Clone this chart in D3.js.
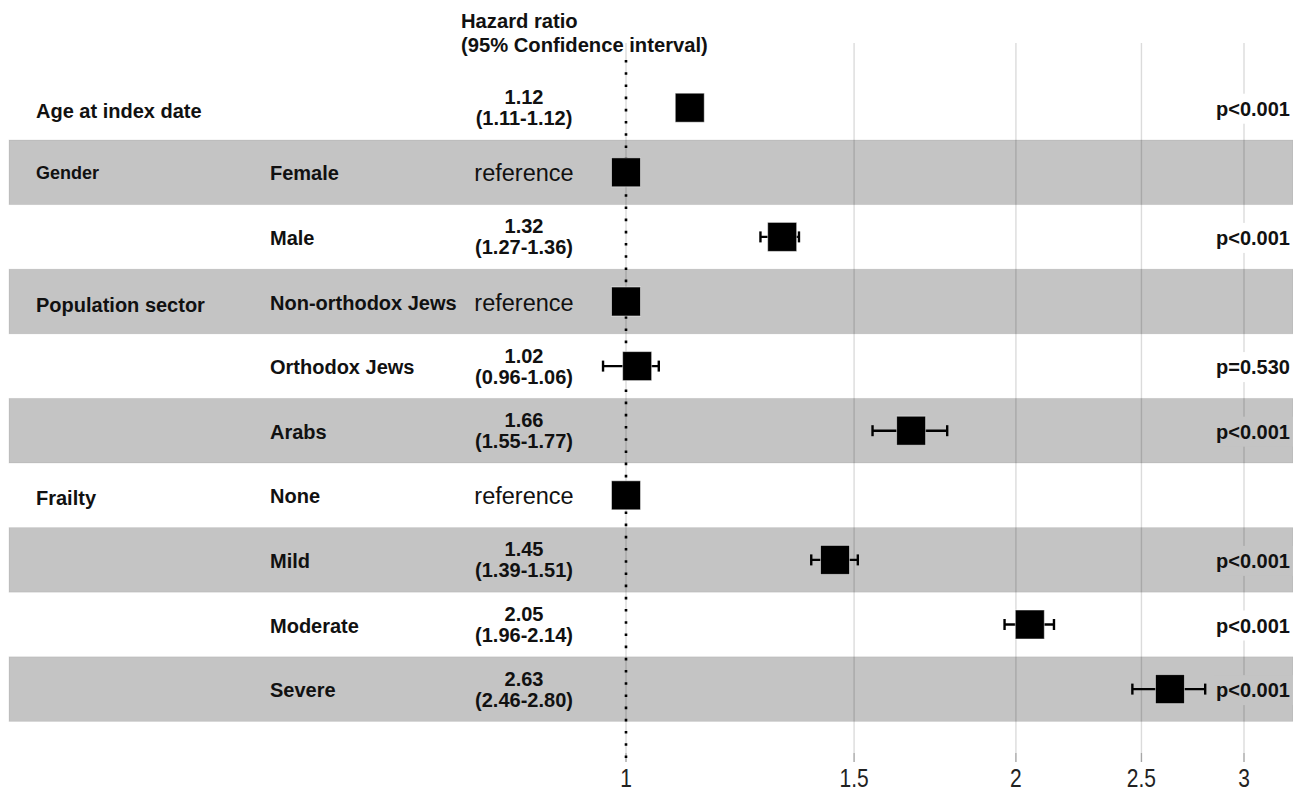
<!DOCTYPE html>
<html>
<head>
<meta charset="utf-8">
<script src="https://cdn.jsdelivr.net/npm/d3@7"></script>
<style>
  html, body { margin: 0; padding: 0; background: #fff; }
  svg { display: block; font-family: "Liberation Sans", Arial, sans-serif; }
</style>
</head>
<body>
<svg id="chart" width="1293" height="793"></svg>
<script>
// Forest plot: hazard ratios with 95% confidence intervals
const groups = ["Age at index date", "Gender", "", "Population sector", "", "", "Frailty", "", "", ""];
const levels = ["", "Female", "Male", "Non-orthodox Jews", "Orthodox Jews", "Arabs", "None", "Mild", "Moderate", "Severe"];
const hazardRatio = [1.12, 1, 1.32, 1, 1.02, 1.66, 1, 1.45, 2.05, 2.63];
const ciLower = [1.11, null, 1.27, null, 0.96, 1.55, null, 1.39, 1.96, 2.46];
const ciUpper = [1.12, null, 1.36, null, 1.06, 1.77, null, 1.51, 2.14, 2.80];
const isReference = [false, true, false, true, false, false, true, false, false, false];
const pValues = ["p<0.001", "", "p<0.001", "", "p=0.530", "p<0.001", "", "p<0.001", "p<0.001", "p<0.001"];
const tickValues = [1, 1.5, 2, 2.5, 3];
const tickLabels = ["1", "1.5", "2", "2.5", "3"];
const headerLines = ["Hazard ratio", "(95% Confidence interval)"];

const fmt = d3.format(".2f");
const svg = d3.select("#chart");

const x = d3.scaleLog().domain([1, 3]).range([626, 1244]);
const rowTop = 75.4, rowH = 64.6;
const y = d3.scaleBand().domain(d3.range(levels.length))
  .range([rowTop, rowTop + rowH * levels.length]).padding(0);
const cy = i => y(i) + y.bandwidth() / 2;
const isGray = i => i % 2 === 1;
const fs = 20;

// alternating row bands
svg.append("g").selectAll("rect")
  .data(d3.range(levels.length).filter(isGray))
  .join("rect")
  .attr("x", 9).attr("width", 1293 - 9)
  .attr("y", i => y(i)).attr("height", y.bandwidth())
  .attr("fill", "#c4c4c4")
  .attr("stroke", "rgba(0,0,0,0.07)").attr("stroke-width", 1);

// vertical grid lines and ticks
const gridTop = 43, gridBottom = 753, tickEnd = 762;
const grid = svg.append("g");
grid.selectAll("line.grid").data(tickValues).join("line")
  .attr("class", "grid")
  .attr("x1", d => x(d)).attr("x2", d => x(d))
  .attr("y1", gridTop).attr("y2", gridBottom)
  .attr("stroke", "rgba(0,0,0,0.14)").attr("stroke-width", 1.4);
grid.selectAll("line.tick").data(tickValues).join("line")
  .attr("class", "tick")
  .attr("x1", d => x(d)).attr("x2", d => x(d))
  .attr("y1", gridBottom).attr("y2", tickEnd)
  .attr("stroke", "rgba(0,0,0,0.35)").attr("stroke-width", 1.4);

// axis labels (condensed)
svg.append("g").selectAll("text").data(tickValues).join("text")
  .attr("transform", d => `translate(${x(d)},778) scale(0.84,1)`)
  .attr("text-anchor", "middle").attr("dominant-baseline", "central")
  .attr("font-size", 25).attr("fill", "#222")
  .text((d, i) => tickLabels[i]);

// null line at HR = 1
svg.append("line")
  .attr("x1", x(1)).attr("x2", x(1)).attr("y1", 60).attr("y2", 758)
  .attr("stroke", "#000").attr("stroke-width", 2.6)
  .attr("stroke-dasharray", "2.6 9.6");

// confidence intervals
const ciRows = d3.range(levels.length).filter(i => ciLower[i] != null);
const ci = svg.append("g").attr("stroke", "#000").attr("stroke-width", 2.4);
ci.selectAll("line.bar").data(ciRows).join("line")
  .attr("x1", i => x(ciLower[i])).attr("x2", i => x(ciUpper[i]))
  .attr("y1", cy).attr("y2", cy);
ci.selectAll("line.lo").data(ciRows).join("line")
  .attr("x1", i => x(ciLower[i])).attr("x2", i => x(ciLower[i]))
  .attr("y1", i => cy(i) - 5.5).attr("y2", i => cy(i) + 5.5);
ci.selectAll("line.hi").data(ciRows).join("line")
  .attr("x1", i => x(ciUpper[i])).attr("x2", i => x(ciUpper[i]))
  .attr("y1", i => cy(i) - 5.5).attr("y2", i => cy(i) + 5.5);

// point estimates
const sq = 29;
svg.append("g").selectAll("rect").data(d3.range(levels.length)).join("rect")
  .attr("x", i => x(hazardRatio[i]) - sq / 2)
  .attr("y", i => cy(i) - sq / 2)
  .attr("width", sq).attr("height", sq)
  .attr("fill", "#000")
  .attr("stroke", "rgba(255,255,255,0.5)").attr("stroke-width", 1);

// header
svg.append("g").selectAll("text").data(headerLines).join("text")
  .attr("x", 461).attr("y", (d, i) => 21 + i * 24)
  .attr("dominant-baseline", "central")
  .attr("font-size", 20.2).attr("font-weight", "bold").attr("fill", "#111")
  .text(d => d);

// group labels
svg.append("g").selectAll("text")
  .data(d3.range(groups.length).filter(i => groups[i]))
  .join("text")
  .attr("x", 36).attr("y", i => cy(i) + (i === 1 ? 1 : 3))
  .attr("dominant-baseline", "central")
  .attr("font-size", i => groups[i] === "Gender" ? 18 : fs)
  .attr("font-weight", "bold").attr("fill", "#111")
  .text(i => groups[i]);

// level labels
svg.append("g").selectAll("text")
  .data(d3.range(levels.length).filter(i => levels[i]))
  .join("text")
  .attr("x", 270).attr("y", i => cy(i) + 1)
  .attr("dominant-baseline", "central")
  .attr("font-size", fs).attr("font-weight", "bold").attr("fill", "#111")
  .text(i => levels[i]);

// hazard ratio text column
const hrCol = svg.append("g").attr("text-anchor", "middle").attr("fill", "#111");
d3.range(levels.length).forEach(i => {
  if (isReference[i]) {
    hrCol.append("text")
      .attr("x", 524).attr("y", cy(i) + 1)
      .attr("dominant-baseline", "central")
      .attr("font-size", 23.5)
      .text("reference");
  } else {
    hrCol.append("text")
      .attr("x", 524).attr("y", cy(i) - 10.5)
      .attr("dominant-baseline", "central")
      .attr("font-size", fs).attr("font-weight", "bold")
      .text(fmt(hazardRatio[i]));
    hrCol.append("text")
      .attr("x", 524).attr("y", cy(i) + 10.5)
      .attr("dominant-baseline", "central")
      .attr("font-size", fs).attr("font-weight", "bold")
      .text(`(${fmt(ciLower[i])}-${fmt(ciUpper[i])})`);
  }
});

// p-values with a row-coloured backing
const pCol = svg.append("g");
d3.range(levels.length).filter(i => pValues[i]).forEach(i => {
  const g = pCol.append("g");
  const bg = g.append("rect");
  const t = g.append("text")
    .attr("x", 1290).attr("y", cy(i) + 1)
    .attr("text-anchor", "end").attr("dominant-baseline", "central")
    .attr("font-size", fs).attr("font-weight", "bold").attr("fill", "#111")
    .text(pValues[i]);
  const b = t.node().getBBox();
  bg.attr("x", b.x - 3).attr("y", cy(i) - 14).attr("width", b.width + 6).attr("height", 30)
    .attr("fill", isGray(i) ? "#c4c4c4" : "#fff");
});
</script>
</body>
</html>
